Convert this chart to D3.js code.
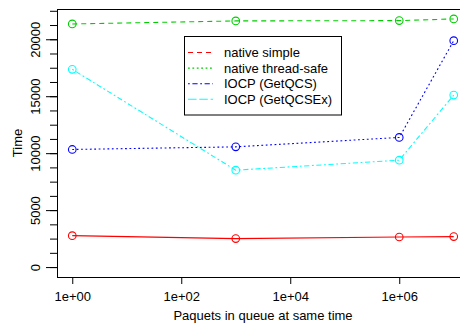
<!DOCTYPE html>
<meta charset="utf-8">
<style>
body { margin:0; background:#fff; }
svg text { font-family: "Liberation Sans", Arial, sans-serif; font-size:13px; fill:#000; }
</style>
<body>
<svg width="460" height="325" id="vis"></svg>
</body>
<script src="https://d3js.org/d3.v7.min.js"></script>
<script>
// queue sizes (x) and timings per implementation
var queueSizes = [1, 1e3, 1e6, 1e7];
var nativeSimple = [2760, 2500, 2640, 2675];
var nativeThreadSafe = [21345, 21610, 21636, 21785];
var iocpGetQCS = [10325, 10554, 11380, 19877];
var iocpGetQCSEx = [17360, 8505, 9384, 15100];

var xTicks = [1, 1e2, 1e4, 1e6];
var xTickLabels = ["1e+00", "1e+02", "1e+04", "1e+06"];
var yTicks = [0, 5000, 10000, 15000, 20000];
var legendLabels = ["native simple", "native thread-safe", "IOCP (GetQCS)", "IOCP (GetQCSEx)"];

// R-like line types
var lty = {dashed: "5,4", dotted: "1.8,2.6", dotdash: "1.8,2.6,5.2,2.6", longdash: "8.5,2.8"};

// plotted series (line types as drawn)
var series = [
  {values: nativeSimple, color: "#ff0000", dash: null},
  {values: nativeThreadSafe, color: "#00cd00", dash: lty.dashed},
  {values: iocpGetQCS, color: "#0000ff", dash: lty.dotted},
  {values: iocpGetQCSEx, color: "#00ffff", dash: lty.dotdash}
];
// legend keys (as they appear in the legend box)
var legendKeys = [
  {color: "#ff0000", dash: lty.dashed},
  {color: "#00cd00", dash: lty.dotted},
  {color: "#0000ff", dash: lty.dotdash},
  {color: "#00ffff", dash: lty.longdash}
];

var svg = d3.select("svg"),
    pLeft = 57, pRight = 469, pTop = 9, pBottom = 277;

var lx = Math.log10(queueSizes[0]), hx = Math.log10(queueSizes[queueSizes.length-1]);
var px = (hx - lx) * 0.04;
var x = d3.scaleLog().domain([Math.pow(10, lx - px), Math.pow(10, hx + px)]).range([pLeft, pRight]);

var allVals = [].concat(nativeSimple, nativeThreadSafe, iocpGetQCS, iocpGetQCSEx);
var ymax = d3.max(allVals), py = ymax * 0.04;
var y = d3.scaleLinear().domain([-py, ymax + py]).range([pBottom, pTop]);

// box
svg.append("rect")
  .attr("x", pLeft + 0.5).attr("y", pTop + 0.5)
  .attr("width", pRight - pLeft).attr("height", pBottom - pTop)
  .attr("fill", "none").attr("stroke", "#000").attr("stroke-width", 1);

// x axis
var xAxis = svg.append("g")
  .attr("transform", "translate(0," + pBottom + ")")
  .call(d3.axisBottom(x).tickValues(xTicks).tickSize(7).tickPadding(8)
    .tickFormat(function(d, i) { return xTickLabels[i]; }));
xAxis.select(".domain").remove();
xAxis.selectAll("text").attr("font-size", null).attr("font-family", null);
xAxis.selectAll("line").attr("stroke", "#000");

// y axis: minor ticks every 1250, labels every 5000
var minor = d3.range(0, ymax + py, 1250);
var yMinor = svg.append("g")
  .attr("transform", "translate(" + pLeft + ",0)")
  .call(d3.axisLeft(y).tickValues(minor).tickSize(7).tickFormat(""));
yMinor.select(".domain").remove();
var yAxis = svg.append("g")
  .attr("transform", "translate(" + pLeft + ",0)")
  .call(d3.axisLeft(y).tickValues(yTicks).tickSize(11).tickFormat(d3.format("d")));
yAxis.select(".domain").remove();
yAxis.attr("font-size", null).attr("font-family", null);
yAxis.selectAll(".tick text")
  .attr("x", 0).attr("y", 0).attr("dy", null)
  .attr("transform", "translate(-17,0) rotate(-90)")
  .style("text-anchor", "middle");

// axis titles
svg.append("text").attr("x", (pLeft + pRight) / 2).attr("y", 320)
  .attr("text-anchor", "middle").text("Paquets in queue at same time");
svg.append("text").attr("transform", "translate(22,143) rotate(-90)")
  .attr("text-anchor", "middle").text("Time");

// series
var line = d3.line()
  .x(function(d, i) { return x(queueSizes[i]); })
  .y(function(d) { return y(d); });

series.forEach(function(s) {
  svg.append("path")
    .datum(s.values)
    .attr("d", line)
    .attr("fill", "none")
    .attr("stroke", s.color)
    .attr("stroke-width", 1.1)
    .attr("stroke-dasharray", s.dash);
  svg.selectAll(null).data(s.values).enter().append("circle")
    .attr("cx", function(d, i) { return x(queueSizes[i]); })
    .attr("cy", function(d) { return y(d); })
    .attr("r", 3.8)
    .attr("fill", "none")
    .attr("stroke", s.color)
    .attr("stroke-width", 1.1);
});

// legend
var lg = svg.append("g");
lg.append("rect").attr("x", 184.5).attr("y", 36.5).attr("width", 157).attr("height", 78.5)
  .attr("fill", "#fff").attr("stroke", "#000").attr("stroke-width", 1);
legendLabels.forEach(function(lab, i) {
  var cy = 52.5 + i * 15.6;
  lg.append("line").attr("x1", 188).attr("x2", 213).attr("y1", cy).attr("y2", cy)
    .attr("stroke", legendKeys[i].color).attr("stroke-width", 1.1)
    .attr("stroke-dasharray", legendKeys[i].dash);
  lg.append("text").attr("x", 224).attr("y", cy + 4.5).text(lab);
});
</script>
